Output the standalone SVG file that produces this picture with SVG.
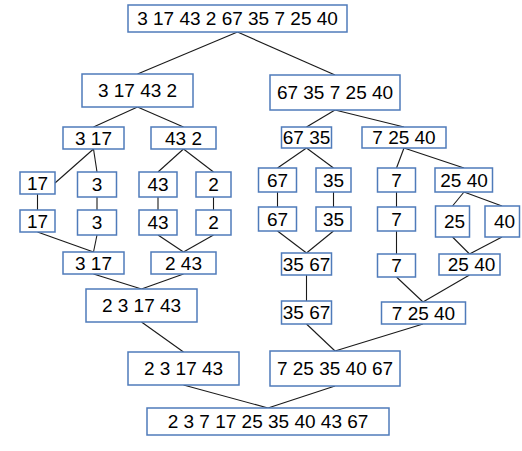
<svg xmlns="http://www.w3.org/2000/svg" width="522" height="451" viewBox="0 0 522 451">
<style>
.b{fill:#ffffff;stroke:#4F7BBA;stroke-width:1.5}
.t{font-family:"Liberation Sans",Arial,sans-serif;font-size:19px;fill:#000000;text-anchor:middle}
.c line{stroke:#1a1a1a;stroke-width:1.1}
</style>
<rect width="522" height="451" fill="#ffffff"/>
<g class="c" id="connectors">
<line x1="237.5" y1="32" x2="137.5" y2="74"/>
<line x1="237.5" y1="32" x2="335" y2="75"/>
<line x1="137.5" y1="107" x2="93.5" y2="127"/>
<line x1="137.5" y1="107" x2="183.5" y2="127"/>
<line x1="335" y1="110" x2="306.5" y2="127"/>
<line x1="335" y1="110" x2="404" y2="127"/>
<line x1="93.5" y1="149" x2="55" y2="183"/>
<line x1="93.5" y1="149" x2="97" y2="172"/>
<line x1="183.5" y1="149" x2="158" y2="172"/>
<line x1="183.5" y1="149" x2="213.5" y2="172"/>
<line x1="306.5" y1="148" x2="277.5" y2="168"/>
<line x1="306.5" y1="148" x2="333.5" y2="168"/>
<line x1="404" y1="148" x2="396.5" y2="168"/>
<line x1="404" y1="148" x2="464" y2="168"/>
<line x1="37.5" y1="194" x2="37.5" y2="210"/>
<line x1="97" y1="197" x2="97" y2="210"/>
<line x1="158" y1="197" x2="158" y2="210"/>
<line x1="213.5" y1="197" x2="213.5" y2="210"/>
<line x1="277.5" y1="192" x2="277.5" y2="207"/>
<line x1="333.5" y1="192" x2="333.5" y2="207"/>
<line x1="396.5" y1="192" x2="396.5" y2="207"/>
<line x1="464" y1="192" x2="452.5" y2="206"/>
<line x1="464" y1="192" x2="502" y2="206"/>
<line x1="37.5" y1="232" x2="93.5" y2="252"/>
<line x1="97" y1="235" x2="93.5" y2="252"/>
<line x1="158" y1="235" x2="183.5" y2="252"/>
<line x1="213.5" y1="235" x2="183.5" y2="252"/>
<line x1="277.5" y1="231" x2="306.5" y2="253"/>
<line x1="333.5" y1="231" x2="306.5" y2="253"/>
<line x1="396.5" y1="231" x2="396.5" y2="254"/>
<line x1="452.5" y1="237" x2="469.5" y2="254"/>
<line x1="502" y1="237" x2="469.5" y2="254"/>
<line x1="93.5" y1="274" x2="141.5" y2="289"/>
<line x1="183.5" y1="274" x2="141.5" y2="289"/>
<line x1="306.5" y1="275" x2="306.5" y2="301"/>
<line x1="396.5" y1="277" x2="423" y2="302"/>
<line x1="469.5" y1="275" x2="423" y2="302"/>
<line x1="141.5" y1="322" x2="183.5" y2="352"/>
<line x1="306.5" y1="324" x2="335" y2="351"/>
<line x1="423" y1="324" x2="335" y2="351"/>
<line x1="183.5" y1="385" x2="268" y2="408"/>
<line x1="335" y1="386" x2="268" y2="408"/>
</g>
<g id="n_top"><rect class="b" x="128" y="5" width="219" height="27"/><text class="t" x="237.5" y="25.3">3 17 43 2 67 35 7 25 40</text></g>
<g id="n_l1"><rect class="b" x="82" y="74" width="111" height="33"/><text class="t" x="137.5" y="97.3">3 17 43 2</text></g>
<g id="n_r1"><rect class="b" x="270" y="75" width="130" height="35"/><text class="t" x="335" y="99.3">67 35 7 25 40</text></g>
<g id="n_317a"><rect class="b" x="63" y="127" width="61" height="22"/><text class="t" x="93.5" y="144.8">3 17</text></g>
<g id="n_432"><rect class="b" x="151" y="127" width="65" height="22"/><text class="t" x="183.5" y="144.8">43 2</text></g>
<g id="n_6735"><rect class="b" x="281.5" y="127" width="50" height="21"/><text class="t" x="306.5" y="144.3">67 35</text></g>
<g id="n_72540a"><rect class="b" x="362" y="127" width="84" height="21"/><text class="t" x="404" y="144.3">7 25 40</text></g>
<g id="n_17a"><rect class="b" x="20" y="172" width="35" height="22"/><text class="t" x="37.5" y="189.8">17</text></g>
<g id="n_3a"><rect class="b" x="77.5" y="172" width="39" height="25"/><text class="t" x="97" y="190.5">3</text></g>
<g id="n_43a"><rect class="b" x="139" y="172" width="38" height="25"/><text class="t" x="158" y="190.5">43</text></g>
<g id="n_2a"><rect class="b" x="196" y="172" width="35" height="25"/><text class="t" x="213.5" y="190.5">2</text></g>
<g id="n_17b"><rect class="b" x="20" y="210" width="35" height="22"/><text class="t" x="37.5" y="227.8">17</text></g>
<g id="n_3b"><rect class="b" x="77.5" y="210" width="39" height="25"/><text class="t" x="97" y="228.5">3</text></g>
<g id="n_43b"><rect class="b" x="139" y="210" width="38" height="25"/><text class="t" x="158" y="228.5">43</text></g>
<g id="n_2b"><rect class="b" x="196" y="210" width="35" height="25"/><text class="t" x="213.5" y="228.5">2</text></g>
<g id="n_67a"><rect class="b" x="258.5" y="168" width="38" height="24"/><text class="t" x="277.5" y="186.8">67</text></g>
<g id="n_35a"><rect class="b" x="316" y="168" width="35" height="24"/><text class="t" x="333.5" y="186.8">35</text></g>
<g id="n_7a"><rect class="b" x="377.5" y="168" width="38" height="24"/><text class="t" x="396.5" y="186.8">7</text></g>
<g id="n_2540a"><rect class="b" x="435" y="168" width="57.5" height="24"/><text class="t" x="464" y="186.8">25 40</text></g>
<g id="n_67b"><rect class="b" x="258.5" y="207" width="38" height="24"/><text class="t" x="277.5" y="225.8">67</text></g>
<g id="n_35b"><rect class="b" x="316" y="207" width="35" height="24"/><text class="t" x="333.5" y="225.8">35</text></g>
<g id="n_7b"><rect class="b" x="377.5" y="207" width="38" height="24"/><text class="t" x="396.5" y="225.8">7</text></g>
<g id="n_25"><rect class="b" x="435.5" y="206" width="34" height="31"/><text class="t" x="454.5" y="228.3">25</text></g>
<g id="n_40"><rect class="b" x="485" y="206" width="34.5" height="31"/><text class="t" x="504.5" y="228.3">40</text></g>
<g id="n_317b"><rect class="b" x="63" y="252" width="61" height="22"/><text class="t" x="93.5" y="269.8">3 17</text></g>
<g id="n_243"><rect class="b" x="151" y="252" width="65" height="22"/><text class="t" x="183.5" y="269.8">2 43</text></g>
<g id="n_3567a"><rect class="b" x="281.5" y="253" width="50" height="22"/><text class="t" x="306.5" y="270.8">35 67</text></g>
<g id="n_7c"><rect class="b" x="377.5" y="254" width="38" height="23"/><text class="t" x="396.5" y="272.3">7</text></g>
<g id="n_2540b"><rect class="b" x="439" y="254" width="61" height="21"/><text class="t" x="471.5" y="271.3">25 40</text></g>
<g id="n_231743a"><rect class="b" x="86" y="289" width="111" height="33"/><text class="t" x="141.5" y="312.3">2 3 17 43</text></g>
<g id="n_3567b"><rect class="b" x="281.5" y="301" width="50" height="23"/><text class="t" x="306.5" y="319.3">35 67</text></g>
<g id="n_72540b"><rect class="b" x="381.5" y="302" width="84" height="22"/><text class="t" x="423.5" y="319.8">7 25 40</text></g>
<g id="n_231743b"><rect class="b" x="128" y="352" width="111" height="33"/><text class="t" x="183.5" y="375.3">2 3 17 43</text></g>
<g id="n_7253540"><rect class="b" x="270" y="351" width="130" height="35"/><text class="t" x="335" y="375.3">7 25 35 40 67</text></g>
<g id="n_final"><rect class="b" x="147" y="408" width="242" height="27"/><text class="t" x="268" y="428.3">2 3 7 17 25 35 40 43 67</text></g>
</svg>
